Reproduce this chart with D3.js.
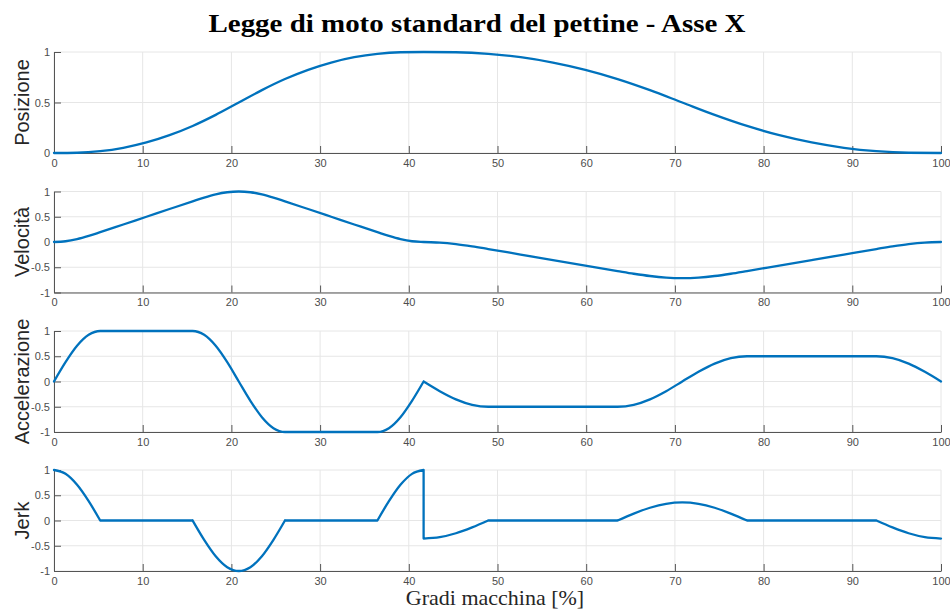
<!DOCTYPE html>
<html>
<head>
<meta charset="utf-8">
<script src="https://cdn.jsdelivr.net/npm/d3@7"></script>
<style>
  body { margin: 0; background: #fff; }
  svg { display: block; }
  .tick text { font-family: "Liberation Sans", Arial, sans-serif; font-size: 11px; fill: #4d4d4d; }
  .ylab { font-family: "Liberation Sans", Arial, sans-serif; font-size: 20px; fill: #262626; }
</style>
</head>
<body>
<div id="chart"></div>
<script>
// gradi macchina [%] e valori normalizzati
var gradiPos = [0, 2.60, 5.21, 7.81, 10.42, 13.02, 15.63, 18.23, 20.83, 23.44, 26.04, 28.65, 31.25, 33.85, 36.46, 39.06, 41.67,
    45.31, 48.96, 52.60, 56.25, 59.90, 63.54, 67.19, 70.83, 74.48, 78.13, 81.77, 85.42, 89.06, 92.71, 96.35, 100];
var posizione = [0, 0.0024, 0.0177, 0.0515, 0.1045, 0.1765, 0.2677, 0.3774, 0.5, 0.6226, 0.7323, 0.8235, 0.8955, 0.9485, 0.9823, 0.9976, 1,
    0.9976, 0.9823, 0.9485, 0.8955, 0.8235, 0.7323, 0.6226, 0.5, 0.3774, 0.2677, 0.1765, 0.1045, 0.0515, 0.0177, 0.0024, 0];

var gradiVel = [0, 1.30, 2.60, 3.91, 5.21, 7.81, 10.42, 13.02, 15.63, 16.93, 18.23, 19.53, 20.83, 22.14, 23.44, 24.74, 26.04,
    28.65, 31.25, 33.85, 36.46, 37.76, 39.06, 40.36, 41.67,
    43.49, 45.31, 47.14, 48.96, 52.60, 56.25, 59.90, 63.54, 65.36, 67.19, 69.01, 70.83, 72.66, 74.48, 76.30, 78.13,
    81.77, 85.42, 89.06, 92.71, 94.53, 96.35, 98.18, 100];
var velocita = [0, 0.0148, 0.0570, 0.1201, 0.1945, 0.3472, 0.5, 0.6528, 0.8055, 0.8799, 0.9431, 0.9852, 1, 0.9852, 0.9431, 0.8799, 0.8055,
    0.6528, 0.5, 0.3472, 0.1945, 0.1201, 0.0570, 0.0148, 0,
    -0.0106, -0.0407, -0.0858, -0.1389, -0.2480, -0.3571, -0.4663, -0.5754, -0.6285, -0.6736, -0.7037, -0.7143, -0.7037, -0.6736, -0.6285, -0.5754,
    -0.4663, -0.3571, -0.2480, -0.1389, -0.0858, -0.0407, -0.0106, 0];

var gradiAcc = [0, 1.30, 2.60, 3.91, 5.21, 15.63, 16.93, 18.23, 19.53, 20.83, 22.14, 23.44, 24.74, 26.04, 36.46, 37.76, 39.06, 40.36, 41.67,
    43.49, 45.31, 47.14, 48.96, 63.54, 65.36, 67.19, 69.01, 70.83, 72.66, 74.48, 76.30, 78.13, 92.71, 94.53, 96.35, 98.18, 100];
var accelerazione = [0, 0.3827, 0.7071, 0.9239, 1, 1, 0.9239, 0.7071, 0.3827, 0, -0.3827, -0.7071, -0.9239, -1, -1, -0.9239, -0.7071, -0.3827, 0,
    -0.1913, -0.3536, -0.4619, -0.5, -0.5, -0.4619, -0.3536, -0.1913, 0, 0.1913, 0.3536, 0.4619, 0.5, 0.5, 0.4619, 0.3536, 0.1913, 0];

var gradiJerk = [0, 1.30, 2.60, 3.91, 5.21, 15.63, 16.93, 18.23, 19.53, 20.83, 22.14, 23.44, 24.74, 26.04, 36.46, 37.76, 39.06, 40.36, 41.67,
    41.67, 43.49, 45.31, 47.14, 48.96, 63.54, 65.36, 67.19, 69.01, 70.83, 72.66, 74.48, 76.30, 78.13, 92.71, 94.53, 96.35, 98.18, 100];
var jerk = [1, 0.9239, 0.7071, 0.3827, 0, 0, -0.3827, -0.7071, -0.9239, -1, -0.9239, -0.7071, -0.3827, 0, 0, 0.3827, 0.7071, 0.9239, 1,
    -0.3571, -0.3299, -0.2525, -0.1367, 0, 0, 0.1367, 0.2525, 0.3299, 0.3571, 0.3299, 0.2525, 0.1367, 0, 0, -0.1367, -0.2525, -0.3299, -0.3571];

// punti angolosi (indici) in cui la curva va spezzata
var spigoliAcc = [18];
var spigoliJerk = [4, 5, 13, 14, 18, 19, 23, 24, 32, 33];

var xTicks = [0, 10, 20, 30, 40, 50, 60, 70, 80, 90, 100];
var yTicksPos = [0, 0.5, 1];
var yTicks = [-1, -0.5, 0, 0.5, 1];

var width = 950, height = 610;
var left = 54, right = 941, plotH = 101;

var svg = d3.select("#chart").append("svg")
    .attr("width", width)
    .attr("height", height);

var x = d3.scaleLinear().domain([0, 100]).range([left, right]);

var panels = [
    { label: "Posizione", xs: gradiPos, ys: posizione, domain: [0, 1], ticks: yTicksPos, top: 52, breaks: [] },
    { label: "Velocità", xs: gradiVel, ys: velocita, domain: [-1, 1], ticks: yTicks, top: 191.5, breaks: [] },
    { label: "Accelerazione", xs: gradiAcc, ys: accelerazione, domain: [-1, 1], ticks: yTicks, top: 331, breaks: spigoliAcc },
    { label: "Jerk", xs: gradiJerk, ys: jerk, domain: [-1, 1], ticks: yTicks, top: 470, breaks: spigoliJerk }
];

panels.forEach(function (p) {
    var y = d3.scaleLinear().domain(p.domain).range([p.top + plotH, p.top]);
    var g = svg.append("g");

    // griglia
    g.selectAll(".gx").data(xTicks).enter().append("line")
        .attr("x1", function (d) { return x(d); }).attr("x2", function (d) { return x(d); })
        .attr("y1", p.top).attr("y2", p.top + plotH)
        .attr("stroke", "#e6e6e6").attr("stroke-width", 1);
    g.selectAll(".gy").data(p.ticks).enter().append("line")
        .attr("x1", left).attr("x2", right)
        .attr("y1", function (d) { return y(d); }).attr("y2", function (d) { return y(d); })
        .attr("stroke", "#e6e6e6").attr("stroke-width", 1);

    var xAxis = g.append("g").attr("transform", "translate(0," + (p.top + plotH) + ")")
        .call(d3.axisBottom(x).tickValues(xTicks).tickSizeInner(-7).tickSizeOuter(0).tickPadding(6));
    var yAxis = g.append("g").attr("transform", "translate(" + left + ",0)")
        .call(d3.axisLeft(y).tickValues(p.ticks).tickSizeInner(-7).tickSizeOuter(0).tickPadding(4)
            .tickFormat(function (d) { return String(d); }));
    [xAxis, yAxis].forEach(function (a) {
        a.selectAll("path, line").attr("stroke", "#555");
        a.attr("font-family", null).attr("font-size", null);
    });

    // una curva liscia per ogni tratto tra due spigoli
    var pts = p.ys.map(function (v, i) { return [p.xs[i], v]; });
    var cuts = [0].concat(p.breaks, [pts.length - 1]);
    var line = d3.line()
        .x(function (d) { return x(d[0]); })
        .y(function (d) { return y(d[1]); })
        .curve(d3.curveMonotoneX);
    var d = "";
    for (var k = 0; k < cuts.length - 1; k++) {
        d += line(pts.slice(cuts[k], cuts[k + 1] + 1));
    }
    g.append("path")
        .attr("d", d)
        .attr("fill", "none")
        .attr("stroke", "#0072BD")
        .attr("stroke-width", 2.3)
        .attr("stroke-linejoin", "round")
        .attr("stroke-linecap", "round");

    g.append("text").attr("class", "ylab")
        .attr("transform", "translate(29," + (p.top + plotH / 2) + ") rotate(-90)")
        .attr("text-anchor", "middle")
        .text(p.label);
});

svg.append("text")
    .attr("x", 477).attr("y", 32)
    .attr("text-anchor", "middle")
    .attr("font-family", "'Liberation Serif', 'DejaVu Serif', serif")
    .attr("font-weight", "bold")
    .attr("font-size", 25)
    .attr("textLength", 537)
    .attr("lengthAdjust", "spacingAndGlyphs")
    .attr("fill", "#000")
    .text("Legge di moto standard del pettine - Asse X");

svg.append("text")
    .attr("x", 495).attr("y", 605)
    .attr("text-anchor", "middle")
    .attr("font-family", "'Liberation Serif', 'DejaVu Serif', serif")
    .attr("font-size", 22)
    .attr("fill", "#262626")
    .text("Gradi macchina [%]");
</script>
</body>
</html>
